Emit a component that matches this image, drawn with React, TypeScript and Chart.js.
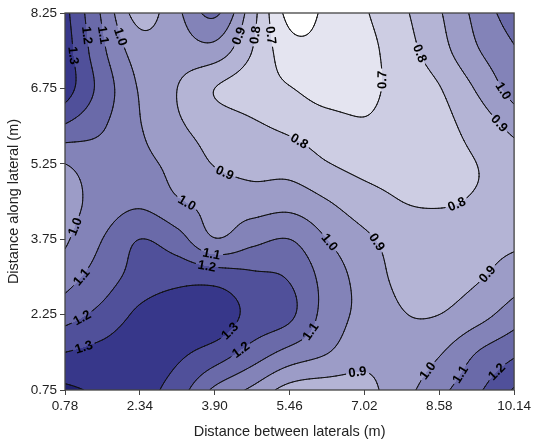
import React, { useEffect, useRef } from "react";
import { Chart, registerables } from "chart.js";

Chart.register(...registerables);

// Axis ticks
const xTicks = [0.78, 2.34, 3.9, 5.46, 7.02, 8.58, 10.14];
const yTicks = [0.75, 2.25, 3.75, 5.25, 6.75, 8.25];

// Sampled field grid (x columns, y rows top -> bottom)
const gridX = [0.78, 1.56, 2.34, 3.12, 3.9, 4.68, 5.46, 6.24, 7.02, 7.8, 8.58, 9.36, 10.14];
const gridY = [8.25, 7.5, 6.75, 6.0, 5.25, 4.5, 3.75, 3.0, 2.25, 1.5, 0.75];
const zValues: number[][] = [
  [1.33, 1.085, 0.86, 0.98, 1.12, 0.84, 0.57, 0.62, 0.69, 0.78, 0.89, 1.03, 1.16],
  [1.35, 1.12, 0.95, 0.95, 0.96, 0.8, 0.64, 0.63, 0.67, 0.755, 0.86, 0.99, 1.09],
  [1.35, 1.16, 0.99, 0.9, 0.8, 0.75, 0.705, 0.66, 0.68, 0.73, 0.795, 0.91, 1.045],
  [1.19, 1.11, 1.005, 0.915, 0.86, 0.815, 0.78, 0.74, 0.71, 0.74, 0.77, 0.84, 0.93],
  [1.0, 1.05, 1.03, 0.965, 0.895, 0.865, 0.86, 0.805, 0.77, 0.77, 0.775, 0.8, 0.85],
  [0.96, 1.04, 1.08, 1.01, 0.97, 0.95, 0.96, 0.905, 0.84, 0.8, 0.79, 0.81, 0.84],
  [0.985, 1.1, 1.2, 1.14, 1.005, 1.07, 1.1, 1.0, 0.92, 0.86, 0.86, 0.865, 0.88],
  [1.06, 1.15, 1.24, 1.27, 1.26, 1.22, 1.19, 1.06, 0.96, 0.875, 0.87, 0.89, 0.95],
  [1.16, 1.23, 1.32, 1.35, 1.36, 1.27, 1.22, 1.06, 0.97, 0.905, 0.9, 0.96, 1.05],
  [1.3, 1.33, 1.36, 1.32, 1.26, 1.16, 1.07, 1.005, 0.93, 0.93, 0.99, 1.1, 1.18],
  [1.42, 1.38, 1.34, 1.25, 1.08, 0.98, 0.86, 0.84, 0.87, 0.96, 1.07, 1.18, 1.31],
];

// Contour levels and band colours (band k lies between levels[k-1] and levels[k])
const levels = [0.6, 0.7, 0.8, 0.9, 1.0, 1.1, 1.2, 1.3, 1.4];
const bandColors = [
  "#ffffff", "#e4e4f0", "#cdcde3", "#b4b4d5", "#9c9cc7",
  "#8383b8", "#6a6aa9", "#50509a", "#37378a", "#202070",
];

// Contour labels: [x, y, level]
const contourLabels: [number, number, number][] = [
  [1.0, 7.41, 1.3], [1.29, 7.81, 1.2], [1.58, 7.81, 1.1], [1.91, 7.77, 1.0],
  [4.36, 7.81, 0.9], [4.76, 7.81, 0.8], [5.09, 7.81, 0.7],
  [8.19, 7.45, 0.8], [7.38, 6.92, 0.7], [9.85, 6.66, 1.0], [9.74, 5.98, 0.9],
  [5.65, 5.68, 0.8], [4.09, 5.03, 0.9], [8.97, 4.37, 0.8], [3.32, 4.47, 1.0],
  [1.02, 3.99, 1.0], [6.27, 3.67, 1.0], [7.17, 3.63, 0.9], [3.84, 3.48, 1.1],
  [3.72, 3.1, 1.2], [9.6, 3.04, 0.9], [1.12, 3.0, 1.1], [1.14, 2.18, 1.2],
  [4.2, 1.94, 1.3], [5.8, 1.98, 1.1], [4.41, 1.59, 1.2], [1.19, 1.55, 1.3],
  [6.84, 1.21, 0.9], [8.31, 1.15, 1.0], [8.97, 1.09, 1.1], [9.74, 1.15, 1.2],
];

const xTitle = "Distance between laterals (m)";
const yTitle = "Distance along lateral (m)";

function gv(r: number, c: number): number {
  const nr = zValues.length;
  const nc = zValues[0].length;
  if (r < 0) return 2 * gv(0, c) - gv(1, c);
  if (r > nr - 1) return 2 * gv(nr - 1, c) - gv(nr - 2, c);
  if (c < 0) return 2 * gv(r, 0) - gv(r, 1);
  if (c > nc - 1) return 2 * gv(r, nc - 1) - gv(r, nc - 2);
  return zValues[r][c];
}

function cr(p0: number, p1: number, p2: number, p3: number, t: number) {
  return 0.5 * (2 * p1 + (-p0 + p2) * t + (2 * p0 - 5 * p1 + 4 * p2 - p3) * t * t + (-p0 + 3 * p1 - 3 * p2 + p3) * t * t * t);
}

function field(x: number, y: number): number {
  const nc = gridX.length;
  const nr = gridY.length;
  const u = (x - gridX[0]) / (gridX[1] - gridX[0]);
  const v = (gridY[0] - y) / (gridY[0] - gridY[1]);
  let i = Math.floor(u);
  let j = Math.floor(v);
  i = Math.max(0, Math.min(nc - 2, i));
  j = Math.max(0, Math.min(nr - 2, j));
  const tu = u - i;
  const tv = v - j;
  const rows: number[] = [];
  for (let k = -1; k <= 2; k++) {
    rows.push(cr(gv(j + k, i - 1), gv(j + k, i), gv(j + k, i + 1), gv(j + k, i + 2), tu));
  }
  return cr(rows[0], rows[1], rows[2], rows[3], tv);
}

function hexToRgb(h: string): [number, number, number] {
  const n = parseInt(h.slice(1), 16);
  return [(n >> 16) & 255, (n >> 8) & 255, n & 255];
}

const LABEL_FONT = "bold 13px 'Liberation Sans', Arial, sans-serif";

const contourPlugin = {
  id: "contourPlugin",
  beforeDatasetsDraw(chart: any) {
    const { ctx, chartArea: a, scales } = chart;
    const xs = scales.x;
    const ys = scales.y;
    const W = Math.round(a.right - a.left);
    const H = Math.round(a.bottom - a.top);
    const fp = (px: number, py: number) => field(xs.getValueForPixel(px), ys.getValueForPixel(py));

    // Filled bands
    const rgb = bandColors.map(hexToRgb);
    const img = ctx.createImageData(W, H);
    const colX: number[] = [];
    for (let c = 0; c < W; c++) colX.push(xs.getValueForPixel(a.left + c + 0.5));
    for (let r = 0; r < H; r++) {
      const yv = ys.getValueForPixel(a.top + r + 0.5);
      for (let c = 0; c < W; c++) {
        const z = field(colX[c], yv);
        let b = 0;
        while (b < levels.length && z >= levels[b]) b++;
        const col = rgb[b];
        const o = (r * W + c) * 4;
        img.data[o] = col[0];
        img.data[o + 1] = col[1];
        img.data[o + 2] = col[2];
        img.data[o + 3] = 255;
      }
    }
    const off = document.createElement("canvas");
    off.width = W;
    off.height = H;
    off.getContext("2d")!.putImageData(img, 0, 0);
    ctx.drawImage(off, a.left, a.top);

    // Label placement (snap onto contour)
    ctx.save();
    ctx.font = LABEL_FONT;
    const placed: { x: number; y: number; ang: number; text: string; w: number }[] = [];
    for (const [lx, ly, lev] of contourLabels) {
      let px = xs.getPixelForValue(lx);
      let py = ys.getPixelForValue(ly);
      const px0 = px;
      const py0 = py;
      for (let k = 0; k < 10; k++) {
        const f0 = fp(px, py) - lev;
        const gx = (fp(px + 1, py) - fp(px - 1, py)) / 2;
        const gy = (fp(px, py + 1) - fp(px, py - 1)) / 2;
        const g2 = gx * gx + gy * gy;
        if (g2 < 1e-12) break;
        let dx = (-f0 * gx) / g2;
        let dy = (-f0 * gy) / g2;
        const m = Math.hypot(dx, dy);
        if (m > 4) {
          dx *= 4 / m;
          dy *= 4 / m;
        }
        px += dx;
        py += dy;
      }
      if (Math.hypot(px - px0, py - py0) > 30) {
        px = px0;
        py = py0;
      }
      const gx = (fp(px + 1, py) - fp(px - 1, py)) / 2;
      const gy = (fp(px, py + 1) - fp(px, py - 1)) / 2;
      let ang = Math.atan2(gx, -gy);
      if (ang > Math.PI / 2) ang -= Math.PI;
      if (ang < -Math.PI / 2) ang += Math.PI;
      const text = lev.toFixed(1);
      const w = ctx.measureText(text).width;
      placed.push({ x: px, y: py, ang, text, w });
    }
    ctx.restore();

    // Contour lines via marching squares, clipped around labels
    const s = 1.5;
    const nx = Math.ceil(W / s) + 1;
    const ny = Math.ceil(H / s) + 1;
    const F: Float64Array = new Float64Array(nx * ny);
    const PX: number[] = [];
    const PY: number[] = [];
    for (let c = 0; c < nx; c++) PX.push(Math.min(a.left + c * s, a.right));
    for (let r = 0; r < ny; r++) PY.push(Math.min(a.top + r * s, a.bottom));
    for (let r = 0; r < ny; r++) {
      const yv = ys.getValueForPixel(PY[r]);
      for (let c = 0; c < nx; c++) F[r * nx + c] = field(xs.getValueForPixel(PX[c]), yv);
    }

    ctx.save();
    ctx.beginPath();
    ctx.rect(a.left, a.top, a.right - a.left, a.bottom - a.top);
    for (const L of placed) {
      const hw = L.w / 2 + 2.5;
      const hh = 7;
      const ca = Math.cos(L.ang);
      const sa = Math.sin(L.ang);
      const pts = [
        [-hw, -hh], [hw, -hh], [hw, hh], [-hw, hh],
      ].map(([u, v]) => [L.x + u * ca - v * sa, L.y + u * sa + v * ca]);
      ctx.moveTo(pts[0][0], pts[0][1]);
      for (let k = 1; k < 4; k++) ctx.lineTo(pts[k][0], pts[k][1]);
      ctx.closePath();
    }
    ctx.clip("evenodd");

    ctx.strokeStyle = "#111";
    ctx.lineWidth = 1;
    ctx.lineCap = "round";
    ctx.beginPath();
    for (const lev of levels) {
      for (let r = 0; r < ny - 1; r++) {
        for (let c = 0; c < nx - 1; c++) {
          const v0 = F[r * nx + c];
          const v1 = F[r * nx + c + 1];
          const v2 = F[(r + 1) * nx + c + 1];
          const v3 = F[(r + 1) * nx + c];
          const idx = (v0 >= lev ? 1 : 0) | (v1 >= lev ? 2 : 0) | (v2 >= lev ? 4 : 0) | (v3 >= lev ? 8 : 0);
          if (idx === 0 || idx === 15) continue;
          const x0 = PX[c], x1 = PX[c + 1], y0 = PY[r], y1 = PY[r + 1];
          const e = (k: number): [number, number] => {
            if (k === 0) { const t = (lev - v0) / (v1 - v0); return [x0 + t * (x1 - x0), y0]; }
            if (k === 1) { const t = (lev - v1) / (v2 - v1); return [x1, y0 + t * (y1 - y0)]; }
            if (k === 2) { const t = (lev - v3) / (v2 - v3); return [x0 + t * (x1 - x0), y1]; }
            const t = (lev - v0) / (v3 - v0); return [x0, y0 + t * (y1 - y0)];
          };
          const seg = (p: number, q: number) => {
            const A = e(p); const B = e(q);
            ctx.moveTo(A[0], A[1]); ctx.lineTo(B[0], B[1]);
          };
          switch (idx) {
            case 1: case 14: seg(3, 0); break;
            case 2: case 13: seg(0, 1); break;
            case 3: case 12: seg(3, 1); break;
            case 4: case 11: seg(1, 2); break;
            case 6: case 9: seg(0, 2); break;
            case 7: case 8: seg(3, 2); break;
            case 5: seg(3, 0); seg(1, 2); break;
            case 10: seg(0, 1); seg(3, 2); break;
          }
        }
      }
    }
    ctx.stroke();
    ctx.restore();

    // Label texts
    ctx.save();
    ctx.font = LABEL_FONT;
    ctx.fillStyle = "#000";
    ctx.textAlign = "center";
    ctx.textBaseline = "middle";
    for (const L of placed) {
      ctx.save();
      ctx.translate(L.x, L.y);
      ctx.rotate(L.ang);
      ctx.fillText(L.text, 0, 0.5);
      ctx.restore();
    }
    ctx.restore();
  },
  afterDraw(chart: any) {
    const { ctx, chartArea: a } = chart;
    ctx.save();
    ctx.strokeStyle = "#444";
    ctx.lineWidth = 1.3;
    ctx.strokeRect(a.left, a.top, a.right - a.left, a.bottom - a.top);
    ctx.restore();
  },
};

const tickFont = { family: "'Liberation Sans', Arial, sans-serif", size: 13.5 };
const titleFont = { family: "'Liberation Sans', Arial, sans-serif", size: 14.5 };

export default function App() {
  const ref = useRef<HTMLCanvasElement>(null);
  useEffect(() => {
    const canvas = ref.current;
    if (!canvas) return;
    const chart = new Chart(canvas, {
      type: "scatter",
      data: { datasets: [{ data: [], pointRadius: 0 }] },
      options: {
        responsive: false,
        animation: false,
        devicePixelRatio: 1,
        layout: { padding: { left: 0, top: 13, right: 18, bottom: 0 } },
        plugins: { legend: { display: false }, tooltip: { enabled: false } },
        scales: {
          x: {
            type: "linear",
            min: xTicks[0],
            max: xTicks[xTicks.length - 1],
            afterBuildTicks: (s: any) => {
              s.ticks = xTicks.map((v) => ({ value: v }));
            },
            afterFit: (s: any) => {
              s.height = 57;
            },
            ticks: {
              callback: (v: any) => Number(v).toFixed(2),
              font: tickFont,
              color: "#222",
              padding: 3,
              maxRotation: 0,
              autoSkip: false,
            },
            grid: { drawOnChartArea: false, drawTicks: true, tickLength: 5, color: "#444" },
            border: { display: false },
            title: { display: true, text: xTitle, font: titleFont, color: "#222", padding: { top: 0, bottom: 6.3 } },
          },
          y: {
            type: "linear",
            min: yTicks[0],
            max: yTicks[yTicks.length - 1],
            afterBuildTicks: (s: any) => {
              s.ticks = yTicks.map((v) => ({ value: v }));
            },
            afterFit: (s: any) => {
              s.width = 65;
            },
            ticks: {
              callback: (v: any) => Number(v).toFixed(2),
              font: tickFont,
              color: "#222",
              padding: 3,
              autoSkip: false,
            },
            grid: { drawOnChartArea: false, drawTicks: true, tickLength: 5, color: "#444" },
            border: { display: false },
            title: { display: true, text: yTitle, font: titleFont, color: "#222", padding: { top: 5.3, bottom: 0 } },
          },
        },
      },
      plugins: [contourPlugin],
    } as any);
    return () => chart.destroy();
  }, []);
  return (
    <div style={{ position: "absolute", left: 0, top: 0, width: 534, height: 447 }}>
      <canvas ref={ref} width={534} height={447} style={{ display: "block", width: 534, height: 447 }} />
    </div>
  );
}
